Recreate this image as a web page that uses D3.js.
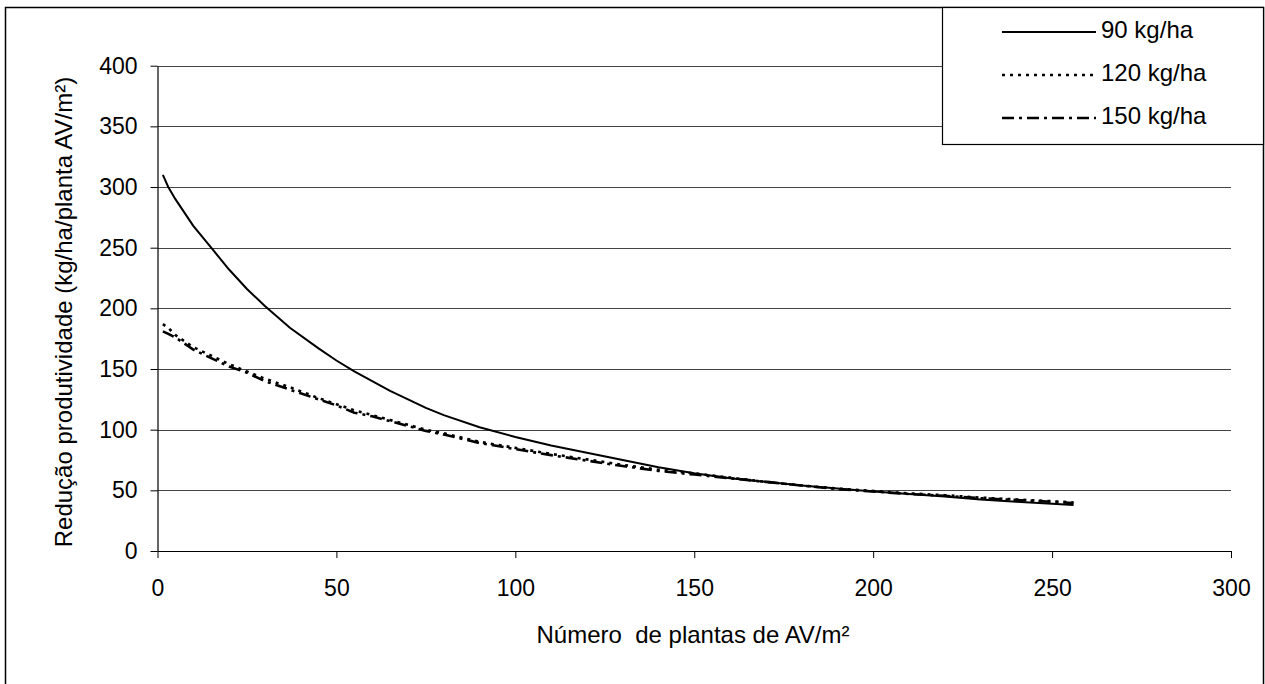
<!DOCTYPE html>
<html>
<head>
<meta charset="utf-8">
<script src="https://cdn.jsdelivr.net/npm/d3@7"></script>
<style>
  body { margin: 0; background: #fff; }
  text { font-family: "Liberation Sans", Arial, sans-serif; fill: #000; }
</style>
</head>
<body>
<div id="chart"></div>
<script>
// densidade de plantas AV/m2 (eixo x)
var plantas = [1.5, 3, 5, 10, 15, 20, 25, 30, 37, 45, 50, 55, 60, 65, 70, 75, 80, 90, 100,
  110, 120, 130, 140, 150, 160, 170, 180, 190, 200, 210, 220, 230, 240, 250, 256];

// reducao de produtividade por dose de N
var red90 = [310, 300, 290, 268, 250, 232, 216, 202, 184, 167, 157, 148, 140, 132, 125, 118, 112, 102, 94,
  87, 81, 75, 69, 64, 60, 57, 54, 51.5, 49, 47, 45, 42.5, 40.5, 39, 38];
var red120 = [187, 184, 178, 168, 161, 154, 148, 142, 135, 126, 121, 116, 112, 108, 104, 100, 97, 90, 85,
  80, 75.5, 71, 67, 64, 60.5, 57, 54, 51.5, 49.5, 47.5, 46, 44, 42.5, 41, 40];
var red150 = [181, 179, 176, 166, 159, 152, 147, 140, 133, 125, 120, 114, 111, 107, 103, 99, 96, 89, 84,
  79, 74.5, 70, 66, 63, 60, 57, 54, 51, 49, 47, 45.5, 43.5, 42, 40.5, 39.5];

var seriesNames = ['90 kg/ha', '120 kg/ha', '150 kg/ha'];
var xTicks = [0, 50, 100, 150, 200, 250, 300];
var yTicks = [0, 50, 100, 150, 200, 250, 300, 350, 400];

var svgWidth = 1265;
var svgHeight = 684;

var svg = d3.select('#chart').append('svg')
  .attr('width', svgWidth).attr('height', svgHeight);

// moldura externa
svg.append('rect')
  .attr('x', 5.5).attr('y', 7.5).attr('width', 1258).attr('height', 700)
  .attr('fill', 'none').attr('stroke', '#000').attr('stroke-width', 1.5);

var x = d3.scaleLinear().domain([0, 300]).range([157.5, 1231]);
var y = d3.scaleLinear().domain([0, 400]).range([551, 65.7]);

// linhas de grade
svg.append('g').selectAll('line')
  .data(yTicks.filter(function(d) { return d > 0; }))
  .enter().append('line')
  .attr('x1', x(0)).attr('x2', x(300))
  .attr('y1', function(d) { return Math.round(y(d)) + 0.5; })
  .attr('y2', function(d) { return Math.round(y(d)) + 0.5; })
  .attr('stroke', '#444').attr('stroke-width', 1);

var yAxis = svg.append('g')
  .attr('transform', 'translate(' + x(0) + ',0)')
  .call(d3.axisLeft(y).tickValues(yTicks).tickSize(7).tickPadding(13).tickSizeOuter(0));

var xAxis = svg.append('g')
  .attr('transform', 'translate(0,' + y(0) + ')')
  .call(d3.axisBottom(x).tickValues(xTicks).tickSize(7).tickPadding(22).tickSizeOuter(0));

[xAxis, yAxis].forEach(function(g) {
  g.select('.domain').attr('stroke', '#000').attr('stroke-width', 1.2);
  g.selectAll('.tick line').attr('stroke', '#000');
  g.selectAll('.tick text')
    .style('font-family', '"Liberation Sans", Arial, sans-serif')
    .style('font-size', '23px').attr('fill', '#000');
});

// titulos dos eixos
svg.append('text')
  .attr('x', 693).attr('y', 637)
  .attr('text-anchor', 'middle').attr('dominant-baseline', 'middle')
  .style('font-size', '24px').style('white-space', 'pre')
  .text('Número  de plantas de AV/m²');

svg.append('text')
  .attr('transform', 'translate(66,312) rotate(-90)')
  .attr('text-anchor', 'middle').attr('dominant-baseline', 'middle')
  .style('font-size', '24px')
  .text('Redução produtividade (kg/ha/planta AV/m²)');

// series
var styles = [
  { dash: null, width: 2 },
  { dash: '3,5', width: 2.6 },
  { dash: '12,5,3,5', width: 2.6 }
];
var allSeries = [red90, red120, red150];

var line = d3.line()
  .x(function(d) { return x(d[0]); })
  .y(function(d) { return y(d[1]); });

allSeries.forEach(function(vals, i) {
  var pts = plantas.map(function(p, j) { return [p, vals[j]]; });
  svg.append('path')
    .datum(pts)
    .attr('d', line)
    .attr('fill', 'none')
    .attr('stroke', '#000')
    .attr('stroke-width', styles[i].width)
    .attr('stroke-dasharray', styles[i].dash);
});

// legenda
var legend = svg.append('g');
legend.append('rect')
  .attr('x', 942.5).attr('y', 7.5).attr('width', 321).attr('height', 137)
  .attr('fill', '#fff').attr('stroke', '#000').attr('stroke-width', 1.2);

var legendY = [32, 75, 118];
seriesNames.forEach(function(name, i) {
  legend.append('line')
    .attr('x1', 1002).attr('x2', 1096)
    .attr('y1', legendY[i]).attr('y2', legendY[i])
    .attr('stroke', '#000')
    .attr('stroke-width', styles[i].width)
    .attr('stroke-dasharray', styles[i].dash);
  legend.append('text')
    .attr('x', 1101).attr('y', legendY[i])
    .attr('dominant-baseline', 'middle')
    .style('font-size', '24px')
    .text(name);
});
</script>
</body>
</html>
